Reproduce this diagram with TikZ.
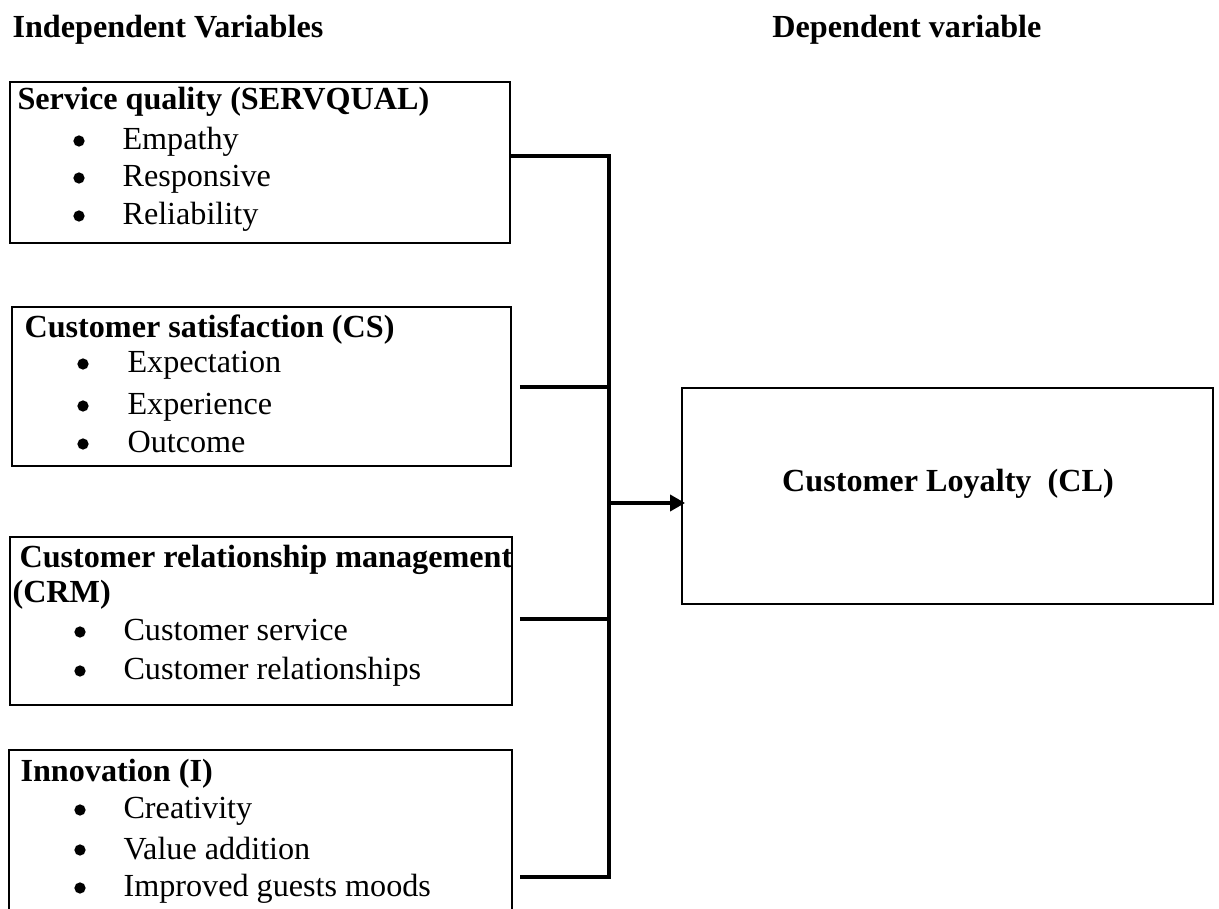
\documentclass[tikz,border=0pt]{standalone}
\usepackage{fontspec}
\setmainfont{Liberation Serif}
\usetikzlibrary{arrows.meta,positioning,fit,calc}

\begin{document}
\begin{tikzpicture}[x=0.013114cm, y=-0.013114cm,
  font=\fontsize{12pt}{14pt}\selectfont,
  varbox/.style={draw, line width=0.7pt, inner sep=0pt},
  head/.style={anchor=base west, inner sep=0pt, font=\fontsize{12pt}{14pt}\selectfont\bfseries},
  entry/.style={anchor=base west, inner sep=0pt},
  link/.style={line width=1.6pt}]
  \useasboundingbox (0,0) rectangle (1219,909);
  % Column headings
  \node[head] (indep) at (12,38) {Independent Variables};
  \node[head, anchor=base east] (dep) at (1042,38) {Dependent variable};
  % Boxes
  \node[varbox, fit={(10,82) (510,243)}] (servqual) {};
  \node[varbox, fit={(12,307) (511,466)}] (satis) {};
  \node[varbox, fit={(10,537) (512,705)}] (crm) {};
  \node[varbox, fit={(9,750) (512,935)}] (innov) {};
  \node[varbox, fit={(682,388) (1213,604)}] (loyal) {};
  % Service quality
  \node[head] (sqhead) at (17,110) {Service quality (SERVQUAL)};
  \foreach \y/\txt [count=\i] in {150/Empathy, 187/Responsive, 225/Reliability}{
    \node[entry] (sq\i) at (122,\y) {\txt};
    \fill ($(sq\i.base west)+(-43,-9)$) circle (2.1pt);
  }
  % Customer satisfaction
  \node[head] (cshead) at (24,338) {Customer satisfaction (CS)};
  \foreach \y/\txt [count=\i] in {373/Expectation, 415/Experience, 453/Outcome}{
    \node[entry] (cs\i) at (127,\y) {\txt};
    \fill ($(cs\i.base west)+(-44,-9)$) circle (2.1pt);
  }
  % CRM
  \node[head] (crmhead) at (19,568) {Customer relationship management};
  \node[head] (crmabbr) at (12,603) {(CRM)};
  \foreach \y/\txt [count=\i] in {641/Customer service, 680/Customer relationships}{
    \node[entry] (crm\i) at (123,\y) {\txt};
    \fill ($(crm\i.base west)+(-43,-9)$) circle (2.1pt);
  }
  % Innovation
  \node[head] (inhead) at (20,782) {Innovation (I)};
  \foreach \y/\txt [count=\i] in {819/Creativity, 859/Value addition, 897/Improved guests moods}{
    \node[entry] (in\i) at (123,\y) {\txt};
    \fill ($(in\i.base west)+(-43,-9)$) circle (2.1pt);
  }
  % Customer loyalty
  \node[head, anchor=base] (cltext) at (948,492) {Customer Loyalty~ (CL)};
  % Connectors
  \coordinate (j1) at (609,156);
  \coordinate (j2) at (609,387);
  \coordinate (j3) at (609,619);
  \coordinate (j4) at (609,877);
  \coordinate (jout) at (609,503);
  \draw[link] (servqual.east |- j1) -- (j1) -- (j4) -- ($(innov.east |- j4)+(7,0)$);
  \draw[link] ($(satis.east |- j2)+(8,0)$) -- (j2);
  \draw[link] ($(crm.east |- j3)+(7,0)$) -- (j3);
  \draw[line width=1.3pt, -{Triangle[length=5.6pt, width=6pt]}] (jout) -- ($(loyal.west |- jout)+(4,0)$);
\end{tikzpicture}
\end{document}
